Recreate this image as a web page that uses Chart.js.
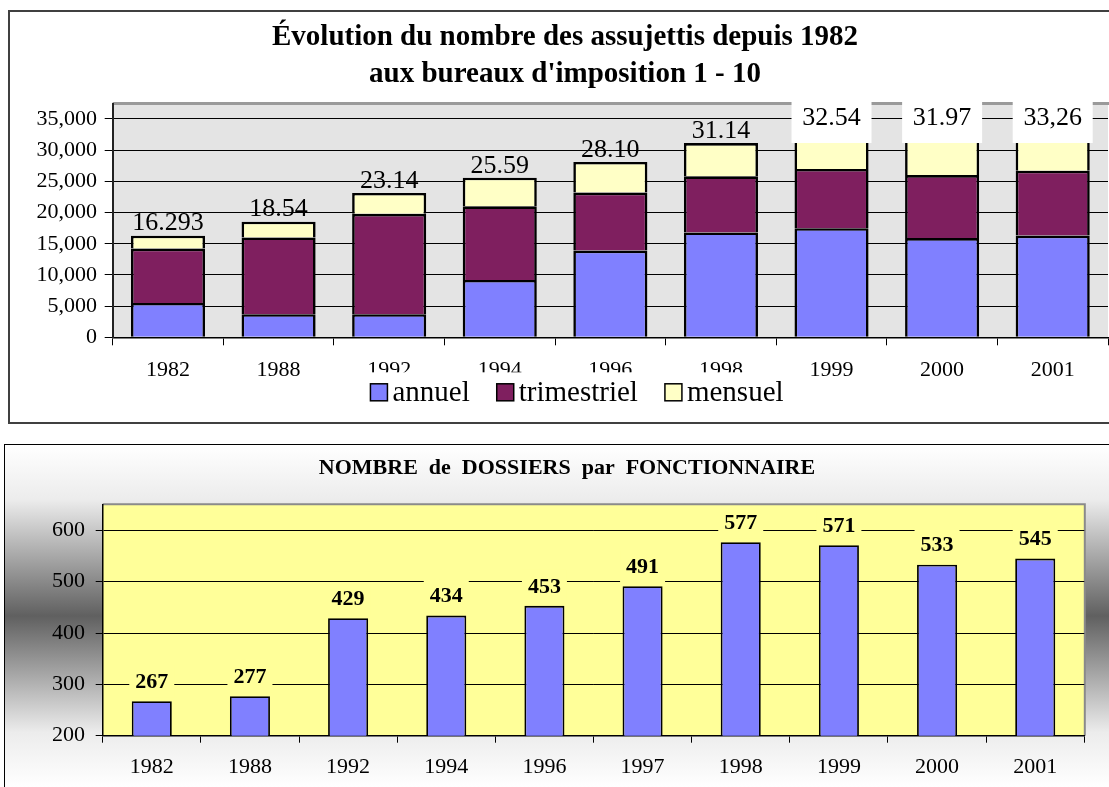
<!DOCTYPE html>
<html>
<head>
<meta charset="utf-8">
<script src="https://cdn.jsdelivr.net/npm/chart.js@4.4.1/dist/chart.umd.min.js"></script>
<style>
  html, body { margin: 0; padding: 0; background: #fff; }
  body { width: 1109px; height: 787px; overflow: hidden; position: relative; }
  #box1 { position: absolute; left: 8px; top: 10px; width: 1120px; height: 410px; border: 2px solid #404040; }
  #box2 { position: absolute; left: 4px; top: 444px; width: 1120px; height: 342px; border: 1.5px solid #000;
          background: linear-gradient(to bottom, #ffffff 0%, #ececec 16%, #606060 50%, #ececec 84%, #ffffff 100%); }
  #c1 { position: absolute; left: 0; top: 0; }
  #c2 { position: absolute; left: 0; top: 444px; }
</style>
</head>
<body>
<div id="box1"></div>
<div id="box2"></div>
<canvas id="c1" width="1130" height="430"></canvas>
<canvas id="c2" width="1109" height="343"></canvas>
<script>
(function(){
  'use strict';

  // Top chart - assujettis par type
  const years = ['1982', '1988', '1992', '1994', '1996', '1998', '1999', '2000', '2001'];
  const annuel = [5500, 3700, 3700, 9200, 13900, 16800, 17500, 15900, 16300];
  const trimestriel = [8730, 12300, 16100, 11800, 9300, 9000, 9500, 10100, 10400];
  const mensuel = [2063, 2540, 3340, 4590, 4900, 5340, 5540, 5970, 6560];
  const totalLabels = ['16.293', '18.54', '23.14', '25.59', '28.10', '31.14', '32.54', '31.97', '33,26'];
  const yTicks1 = [0, 5000, 10000, 15000, 20000, 25000, 30000, 35000];
  const yMax1 = 37400;

  // Bottom chart - dossiers par fonctionnaire
  const years2 = ['1982', '1988', '1992', '1994', '1996', '1997', '1998', '1999', '2000', '2001'];
  const dossiers = [267, 277, 429, 434, 453, 491, 577, 571, 533, 545];
  const yTicks2 = [200, 300, 400, 500, 600];
  const yMin2 = 200;
  const yMax2 = 650;

  const SERIF = '"Liberation Serif", "Times New Roman", serif';
  Chart.defaults.font.family = SERIF;
  Chart.defaults.color = '#000';

  // plot area fill for top chart
  const plotBg1 = {
    id: 'plotBg1',
    beforeDraw(chart){
      const {ctx, chartArea: a} = chart;
      ctx.save();
      ctx.fillStyle = '#e4e4e4';
      ctx.fillRect(a.left, a.top, a.right - a.left, a.bottom - a.top);
      ctx.strokeStyle = '#9a9a9a';
      ctx.lineWidth = 3;
      ctx.beginPath();
      ctx.moveTo(a.left, a.top - 0.5);
      ctx.lineTo(a.right + 4, a.top - 0.5);
      ctx.stroke();
      ctx.restore();
    }
  };

  // total labels above the stacks
  const totals1 = {
    id: 'totals1',
    afterDatasetsDraw(chart){
      const {ctx, chartArea: a} = chart;
      const top = chart.getDatasetMeta(chart.data.datasets.length - 1);
      ctx.save();
      ctx.font = '26px ' + SERIF;
      ctx.textAlign = 'center';
      ctx.textBaseline = 'middle';
      top.data.forEach((bar, i) => {
        const txt = totalLabels[i];
        if (bar.y - 36 < a.top) {
          ctx.fillStyle = '#fff';
          ctx.fillRect(bar.x - 40, a.top - 2, 80, 41);
          ctx.fillStyle = '#000';
          ctx.fillText(txt, bar.x, a.top + 14);
        } else {
          ctx.fillStyle = '#000';
          ctx.fillText(txt, bar.x, bar.y - 12);
        }
      });
      ctx.restore();
    }
  };

  // legend drawn over the lower half of the axis labels, like the original
  const legend1 = {
    id: 'legend1',
    afterDraw(chart){
      const {ctx, chartArea: a} = chart;
      const items = chart.data.datasets;
      ctx.save();
      ctx.font = '29px ' + SERIF;
      const sq = 17, gap = 5, sp = 27;
      const widths = items.map(d => ctx.measureText(d.label).width);
      const total = widths.reduce((s, w) => s + sq + gap + w, 0) + sp * (items.length - 1);
      const cx = chart.width / 2 + 12;
      const cy = a.bottom + 55;
      let x = cx - total / 2;
      ctx.fillStyle = '#fff';
      ctx.fillRect(x - 16, cy - 20, total + 32, 42);
      ctx.textAlign = 'left';
      ctx.textBaseline = 'middle';
      items.forEach((d, i) => {
        ctx.fillStyle = d.backgroundColor;
        ctx.fillRect(x, cy - sq / 2, sq, sq);
        ctx.strokeStyle = '#000';
        ctx.lineWidth = 1.5;
        ctx.strokeRect(x, cy - sq / 2, sq, sq);
        ctx.fillStyle = '#000';
        ctx.fillText(d.label, x + sq + gap, cy + 1);
        x += sq + gap + widths[i] + sp;
      });
      ctx.restore();
    }
  };

  new Chart(document.getElementById('c1'), {
    type: 'bar',
    data: {
      labels: years,
      datasets: [
        { label: 'annuel', data: annuel, backgroundColor: '#8080ff' },
        { label: 'trimestriel', data: trimestriel, backgroundColor: '#7f1f5f' },
        { label: 'mensuel', data: mensuel, backgroundColor: '#ffffc6' }
      ]
    },
    options: {
      responsive: false,
      animation: false,
      events: [],
      layout: { padding: { left: 22, right: 22, top: 0, bottom: 0 } },
      datasets: {
        bar: { borderColor: '#000', borderWidth: 2.6, categoryPercentage: 1, barPercentage: 0.67 }
      },
      plugins: {
        legend: { display: false },
        tooltip: { enabled: false },
        title: {
          display: true,
          text: ["Évolution du nombre des assujettis depuis 1982", "aux bureaux d'imposition 1 - 10"],
          color: '#000',
          font: { size: 29, weight: 'bold', family: SERIF, lineHeight: 1.276 },
          padding: { top: 19.5, bottom: 10.5 }
        }
      },
      scales: {
        x: {
          stacked: true,
          grid: { display: true, drawOnChartArea: false, drawTicks: true, tickLength: 8, color: '#000', lineWidth: 1 },
          border: { display: true, color: '#000', width: 1.5 },
          ticks: { font: { size: 22, family: SERIF }, color: '#000', padding: 11.5, maxRotation: 0, autoSkip: false },
          afterFit(s){ s.height = 92.7; }
        },
        y: {
          stacked: true,
          min: 0,
          max: yMax1,
          grid: { color: '#000', lineWidth: 1, drawTicks: true, tickLength: 8 },
          border: { display: true, color: '#222', width: 2 },
          ticks: {
            font: { size: 22, family: SERIF },
            color: '#000',
            padding: 7.7,
            callback: v => v.toLocaleString('en-US')
          },
          afterBuildTicks(s){ s.ticks = yTicks1.map(v => ({ value: v })); },
          afterFit(s){ s.width = 90.7; }
        }
      }
    },
    plugins: [plotBg1, totals1, legend1]
  });

  // bottom chart plot area
  const plotBg2 = {
    id: 'plotBg2',
    beforeDraw(chart){
      const {ctx, chartArea: a} = chart;
      ctx.save();
      ctx.fillStyle = '#ffff99';
      ctx.fillRect(a.left, a.top, a.right - a.left, a.bottom - a.top);
      ctx.strokeStyle = '#8a8a8a';
      ctx.lineWidth = 2;
      ctx.beginPath();
      ctx.moveTo(a.left, a.top - 0.5);
      ctx.lineTo(a.right + 0.5, a.top - 0.5);
      ctx.lineTo(a.right + 0.5, a.bottom);
      ctx.stroke();
      ctx.restore();
    }
  };

  const values2 = {
    id: 'values2',
    afterDatasetsDraw(chart){
      const {ctx} = chart;
      const meta = chart.getDatasetMeta(0);
      ctx.save();
      ctx.font = 'bold 22px ' + SERIF;
      ctx.textAlign = 'center';
      ctx.textBaseline = 'middle';
      meta.data.forEach((bar, i) => {
        const txt = String(dossiers[i]);
        const w = ctx.measureText(txt).width;
        const y = bar.y - 20;
        ctx.fillStyle = '#ffff99';
        ctx.fillRect(bar.x - w / 2 - 6, y - 16, w + 12, 32);
        ctx.fillStyle = '#000';
        ctx.fillText(txt, bar.x, y + 1);
      });
      ctx.restore();
    }
  };

  new Chart(document.getElementById('c2'), {
    type: 'bar',
    data: {
      labels: years2,
      datasets: [
        { label: 'dossiers', data: dossiers, backgroundColor: '#8080ff', borderColor: '#000', borderWidth: 1.8,
          categoryPercentage: 1, barPercentage: 0.408 }
      ]
    },
    options: {
      responsive: false,
      animation: false,
      events: [],
      layout: { padding: { left: 49.7, right: 24.7, top: 0, bottom: 0 } },
      plugins: {
        legend: { display: false },
        tooltip: { enabled: false },
        title: {
          display: true,
          text: 'NOMBRE  de  DOSSIERS  par  FONCTIONNAIRE',
          color: '#000',
          font: { size: 22, weight: 'bold', family: SERIF, lineHeight: 1.2 },
          padding: { top: 10.8, bottom: 23.5 }
        }
      },
      scales: {
        x: {
          grid: { display: true, drawOnChartArea: false, drawTicks: true, tickLength: 7, color: '#000', lineWidth: 1 },
          border: { display: true, color: '#000', width: 1.5 },
          ticks: { font: { size: 22, family: SERIF }, color: '#000', padding: 11.6, maxRotation: 0, autoSkip: false },
          afterFit(s){ s.height = 51.3; }
        },
        y: {
          min: yMin2,
          max: yMax2,
          grid: { color: '#000', lineWidth: 1, drawTicks: true, tickLength: 7 },
          border: { display: true, color: '#000', width: 1.5 },
          ticks: {
            font: { size: 22, family: SERIF },
            color: '#000',
            padding: 10.7
          },
          afterBuildTicks(s){ s.ticks = yTicks2.map(v => ({ value: v })); },
          afterFit(s){ s.width = 53; }
        }
      }
    },
    plugins: [plotBg2, values2]
  });
})();
</script>
</body>
</html>
